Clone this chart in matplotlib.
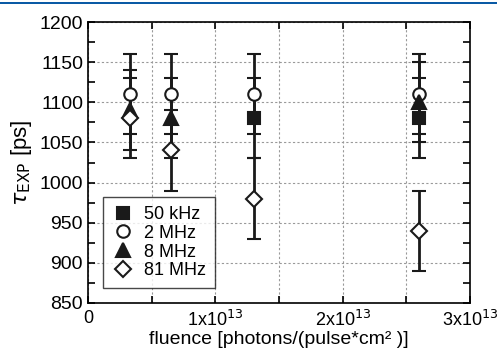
import numpy as np
import matplotlib
matplotlib.use('Agg')
import matplotlib.pyplot as plt
from matplotlib.patches import Rectangle
from matplotlib.lines import Line2D
from matplotlib.ticker import MultipleLocator, FuncFormatter

plt.rcParams['font.family'] = ['Liberation Sans', 'DejaVu Sans']

labels = ['50 kHz', '2 MHz', '8 MHz', '81 MHz']
markers = ['s', 'o', '^', 'D']
fills = ['#1a1a1a', 'white', '#1a1a1a', 'white']

x_50k = [1.3e13, 2.6e13]
y_50k = [1080, 1080]
x_2M = [0.33e13, 0.65e13, 1.3e13, 2.6e13]
y_2M = [1110, 1110, 1110, 1110]
x_8M = [0.33e13, 0.65e13, 2.6e13]
y_8M = [1090, 1080, 1100]
x_81M = [0.33e13, 0.65e13, 1.3e13, 2.6e13]
y_81M = [1080, 1040, 980, 940]
err = 50

series = [(x_50k, y_50k), (x_2M, y_2M), (x_8M, y_8M), (x_81M, y_81M)]
sizes = [8, 9, 10, 8]

fig = plt.figure(figsize=(4.97, 3.55), dpi=100)
ax = fig.add_axes([0.177, 0.1465, 0.769, 0.7915])

handles = []
for (xs, ys), lab, m, fc, ms in zip(series, labels, markers, fills, sizes):
    ax.errorbar(xs, ys, yerr=err, fmt=m, color='#1a1a1a', mfc=fc, mec='#1a1a1a',
                ms=ms, mew=1.5, elinewidth=2, capsize=5, capthick=2, zorder=3)
    handles.append(Line2D([], [], ls='none', marker=m, mfc=fc, mec='#1a1a1a',
                          ms=ms, mew=1.5, label=lab))

ax.set_xlim(0, 3e13)
ax.set_ylim(850, 1200)
ax.xaxis.set_major_locator(MultipleLocator(1e13))
ax.xaxis.set_minor_locator(MultipleLocator(0.5e13))
ax.yaxis.set_major_locator(MultipleLocator(50))
ax.yaxis.set_minor_locator(MultipleLocator(25))

def fmt(v, pos):
    if v == 0:
        return '0'
    return r'%dx10$^{13}$' % round(v / 1e13)

ax.xaxis.set_major_formatter(FuncFormatter(fmt))
ax.grid(True, which='major', axis='y', ls=(0, (2, 2)), color='#999999', lw=0.8)
ax.grid(True, which='both', axis='x', ls=(0, (2, 2)), color='#999999', lw=0.8)
ax.tick_params(which='both', direction='in', top=True, right=True, labelsize=14, width=1.2)
ax.tick_params(which='major', length=5)
ax.tick_params(which='minor', length=5)
ax.tick_params(axis='x', pad=5, labelsize=13)
for s in ax.spines.values():
    s.set_linewidth(1.2)

ax.set_xlabel('fluence [photons/(pulse*cm² )]', fontsize=14, labelpad=1)
ax.set_ylabel(r'$\tau_{\mathrm{EXP}}$ [ps]', fontsize=16, labelpad=4)

leg = ax.legend(handles=handles, loc='lower left', fontsize=13, frameon=True,
                fancybox=False, edgecolor='#1a1a1a', handlelength=1.2,
                handletextpad=0.6, borderpad=0.5, labelspacing=0.1,
                bbox_to_anchor=(0.015, 0.02))
leg.get_frame().set_linewidth(1.0)

fig.add_artist(Rectangle((0, 1 - 4 / 355), 1, 2.5 / 355, transform=fig.transFigure,
                         color='#0a5aa5', lw=0))

fig.savefig('out.png', dpi=100)
